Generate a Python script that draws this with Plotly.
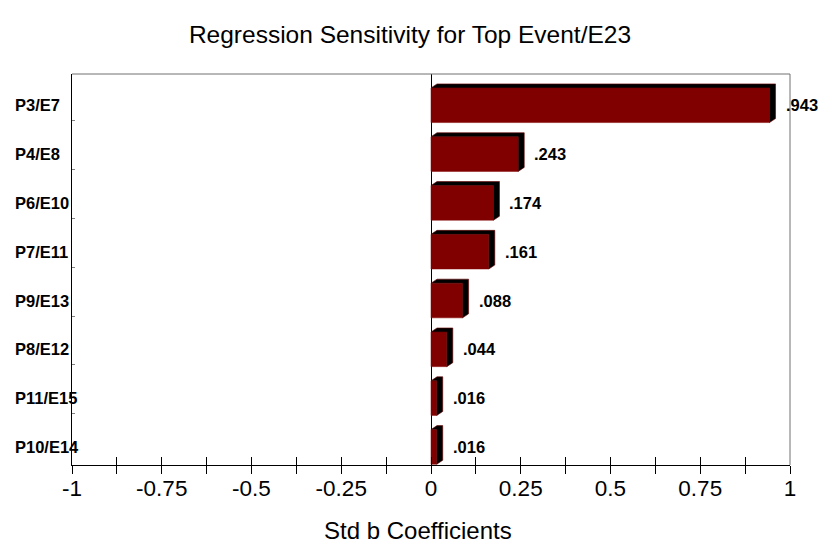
import plotly.graph_objects as go

categories = ["P3/E7", "P4/E8", "P6/E10", "P7/E11", "P9/E13", "P8/E12", "P11/E15", "P10/E14"]
values = [0.943, 0.243, 0.174, 0.161, 0.088, 0.044, 0.016, 0.016]
x_tickvals = [-1, -0.75, -0.5, -0.25, 0, 0.25, 0.5, 0.75, 1]
x_ticktext = ["-1", "-0.75", "-0.5", "-0.25", "0", "0.25", "0.5", "0.75", "1"]
x_minor = [-1 + 0.125 * i for i in range(17)]

FONT = "Liberation Sans, Arial, sans-serif"
W, H = 821, 543
# plot area in window pixels: x 72..790, y 74..465
L, R, T, B = 72, 821 - 790, 74, 543 - 465
plot_w = W - L - R
plot_h = H - T - B
y_range = [7.37, -0.64]
px_per_x = plot_w / 2.0
px_per_row = plot_h / (y_range[0] - y_range[1])

pos = list(range(len(categories)))
bar_w = 0.71
hh = bar_w / 2
dx = 6 / px_per_x
dy = 4 / px_per_row

fig = go.Figure()

# front faces
fig.add_trace(go.Bar(
    x=values, y=pos, orientation="h", width=bar_w,
    marker=dict(color="#800000", line=dict(color="#800000", width=0.5)),
    hoverinfo="skip", showlegend=False,
))

# 3D top + side faces derived from the data
px, py = [], []
for c, v in zip(pos, values):
    px += [0, v, v, v + dx, v + dx, dx, 0, None]
    py += [c - hh, c - hh, c + hh, c + hh - dy, c - hh - dy, c - hh - dy, c - hh, None]
fig.add_trace(go.Scatter(
    x=px, y=py, mode="lines", fill="toself", fillcolor="#000000",
    line=dict(color="#6a0000", width=0.6), hoverinfo="skip", showlegend=False,
))

annotations = []
for c, v, name in zip(pos, values, categories):
    annotations.append(dict(
        x=(13 - L) / plot_w, xref="paper", y=c, yref="y", text=name,
        xanchor="left", yanchor="middle", showarrow=False,
        font=dict(family=FONT, size=16.5, color="#000000", weight="bold"),
    ))
    annotations.append(dict(
        x=v, xref="x", y=c, yref="y", text=f"{v:.3f}".lstrip("0"),
        xanchor="left", yanchor="middle", xshift=14, yshift=0, showarrow=False,
        font=dict(family=FONT, size=16.5, color="#000000", weight="bold"),
    ))
annotations.append(dict(
    x=(418 - L) / plot_w, xref="paper", y=-(530 - 465) / plot_h, yref="paper",
    text="Std b Coefficients", showarrow=False, xanchor="center", yanchor="middle",
    font=dict(family=FONT, size=24, color="#000000"),
))

fig.update_layout(
    width=W, height=H,
    margin=dict(l=L, r=R, t=T, b=B, autoexpand=False),
    paper_bgcolor="white", plot_bgcolor="white",
    title=dict(
        text="Regression Sensitivity for Top Event/E23",
        x=410 / W, xref="container", xanchor="center",
        y=1 - 34 / H, yref="container", yanchor="middle",
        font=dict(family=FONT, size=24.5, color="#000000"),
    ),
    xaxis=dict(
        range=[-1, 1], tickvals=x_tickvals, ticktext=x_ticktext,
        ticks="", ticklabelstandoff=3,
        showgrid=False, zeroline=True, zerolinecolor="#000000", zerolinewidth=1,
        showline=True, linecolor="#000000", linewidth=1,
        tickfont=dict(family=FONT, size=22.5, color="#000000"),
        fixedrange=True,
    ),
    xaxis2=dict(
        range=[-1, 1], overlaying="x", anchor="y", side="bottom",
        tickvals=x_minor, ticks="inside", ticklen=8, tickcolor="#000000",
        showticklabels=False, showgrid=False, zeroline=False, showline=False,
    ),
    xaxis3=dict(
        range=[-1, 1], overlaying="x", anchor="y", side="bottom",
        tickvals=x_minor, ticks="outside", ticklen=8, tickcolor="#000000",
        showticklabels=False, showgrid=False, zeroline=False, showline=False,
    ),
    yaxis=dict(
        range=y_range, tickvals=[k + 0.32 for k in pos[:-1]], ticks="inside",
        ticklen=3, tickcolor="#808080", showticklabels=False, showgrid=False,
        zeroline=False, showline=True, linecolor="#000000", linewidth=1,
    ),
    shapes=[
        dict(type="line", xref="paper", yref="paper", x0=0, x1=1, y0=1, y1=1,
             line=dict(color="#707070", width=1)),
        dict(type="line", xref="paper", yref="paper", x0=1, x1=1, y0=0, y1=1,
             line=dict(color="#707070", width=1)),
    ],
    annotations=annotations,
    bargap=0,
)

# invisible traces to activate the tick-only axes
for ax in ("x2", "x3"):
    fig.add_trace(go.Scatter(x=[-1, 1], y=[None, None], xaxis=ax, yaxis="y",
                             mode="markers", showlegend=False, hoverinfo="skip"))

fig.write_html(
    "out.html",
    config={"displayModeBar": False, "staticPlot": True},
    post_script="document.body.style.margin='0';document.body.style.overflow='hidden';",
)
